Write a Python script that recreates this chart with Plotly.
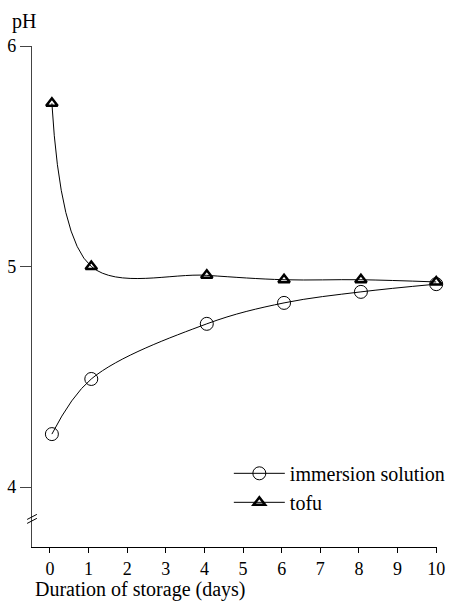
import plotly.graph_objects as go

days = [0.05, 1.07, 4.06, 6.06, 8.05, 10.0]
immersion = [4.24, 4.49, 4.74, 4.835, 4.885, 4.92]
tofu = [5.74, 5.00, 4.96, 4.94, 4.94, 4.93]
x_ticks = list(range(0, 11))
y_ticks = [4, 5, 6]

FAM = "Liberation Serif, Times New Roman, serif"
font = dict(family=FAM, size=20, color="black")
tickfont = dict(family=FAM, size=18, color="black")

fig = go.Figure()
fig.add_trace(go.Scatter(
    x=days, y=immersion, name="immersion solution", mode="lines+markers",
    line=dict(color="black", width=1, shape="spline", smoothing=1.0),
    marker=dict(symbol="circle-open", size=13, color="black", line=dict(width=1)),
    cliponaxis=False))
fig.add_trace(go.Scatter(
    x=days, y=tofu, name="tofu", mode="lines+markers",
    line=dict(color="black", width=1, shape="spline", smoothing=1.0),
    marker=dict(symbol="triangle-up-open", size=10, color="black", line=dict(width=2.5)),
    cliponaxis=False))

# axis break marks
for dy in (0.0, 0.018):
    fig.add_shape(type="line", xref="paper", yref="y",
                  x0=-0.012, x1=0.012, y0=3.835 + dy, y1=3.858 + dy,
                  line=dict(color="black", width=1))

fig.update_layout(
    width=450, height=602, plot_bgcolor="white", paper_bgcolor="white",
    margin=dict(l=32, r=13, t=46, b=55, autoexpand=False), font=font,
    legend=dict(x=0.486, y=0.186, xanchor="left", yanchor="top", itemwidth=51,
                bgcolor="rgba(0,0,0,0)", font=font, tracegroupgap=0),
    xaxis=dict(range=[-0.465, 10.02], tickvals=x_ticks, showline=True,
               linecolor="black", linewidth=1.3, ticks="outside", ticklen=5,
               tickcolor="black", showgrid=False, zeroline=False,
               tickfont=tickfont, automargin=False),
    yaxis=dict(range=[3.728, 6], tickvals=y_ticks, showline=True,
               linecolor="#444", linewidth=1.2, ticks="outside", ticklen=11,
               tickcolor="#444", showgrid=False, zeroline=False,
               tickfont=tickfont, automargin=False),
    annotations=[
        dict(text="pH", xref="paper", yref="paper", x=-0.054, y=1.048,
             xanchor="left", yanchor="middle", showarrow=False, font=font),
        dict(text="Duration of storage (days)", xref="paper", yref="paper",
             x=0.0025, y=-0.0858, xanchor="left", yanchor="middle",
             showarrow=False, font=font),
    ],
)
fig.write_html(
    "out.html",
    config={"responsive": False, "displayModeBar": False},
    post_script="document.body.style.margin='0';document.body.style.overflow='hidden';",
)
